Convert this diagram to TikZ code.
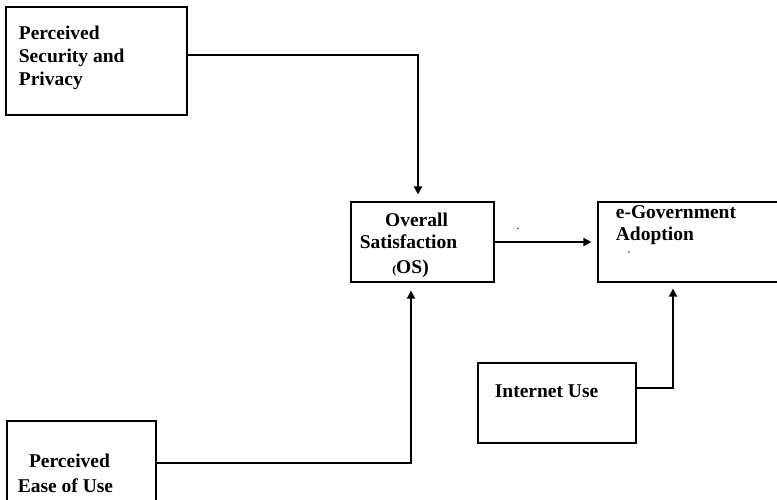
\documentclass[tikz,border=0pt]{standalone}
\usepackage{fontspec}
\setmainfont{Liberation Serif}
\usetikzlibrary{arrows.meta}

\begin{document}
\begin{tikzpicture}[x=1pt,y=-1pt,>={Triangle[length=8pt,width=8pt]},line width=1.7pt]
	  \tikzstyle{box} = [draw,rectangle,inner sep=0pt,line width=1.2pt]
	  \tikzstyle{word} = [font=\fontsize{19.5}{24}\selectfont\bfseries,color=black,inner sep=0pt]
	  \tikzstyle{speck} = [font=\fontsize{9}{10}\selectfont\bfseries,color=black,inner sep=0pt]
	  \useasboundingbox (0,0) rectangle (777,499);
	  % boxes
	  \node (psp) [box,minimum width=181pt,minimum height=108pt] at (96.5,61) {};
	  \node (os) [box,minimum width=143pt,minimum height=80pt] at (422.5,242) {};
	  \node (ega) [box,minimum width=190pt,minimum height=80pt] at (693,242) {};
	  \node (peu) [box,minimum width=149pt,minimum height=90pt] at (81.5,466) {};
	  \node (inet) [box,minimum width=158pt,minimum height=80pt] at (557,403) {};
	  % texts
	  \node (psp_1) [word,anchor=base west] at (18,39.5) {Perceived};
	  \node (psp_2) [word,anchor=base west] at (18,62.5) {Security and};
	  \node (psp_3) [word,anchor=base west] at (18,85) {Privacy};
	  \node (os_1) [word,anchor=base] at (416.5,226) {Overall};
	  \node (os_2) [word,anchor=base] at (408.5,248) {Satisfaction};
	  \node (os_3) [word,anchor=base] at (410.5,273) {{\fontsize{12}{14}\selectfont(}OS)};
	  \node (ega_1) [word,anchor=base west] at (615,218) {e-Government};
	  \node (ega_2) [word,anchor=base west] at (615,240) {Adoption};
	  \node (inet_1) [word,anchor=base west] at (494,397) {Internet Use};
	  \node (peu_1) [word,anchor=base] at (69.5,467) {Perceived};
	  \node (peu_2) [word,anchor=base] at (65.5,492) {Ease of Use};
	  \node (dot_1) [speck] at (518,229) {.};
	  \node (dash_1) [speck] at (629,253) {-};
	  % connectors
	  \coordinate (k_1) at (418,55);
	  \coordinate (k_2) at (411,463);
	  \coordinate (k_3) at (673,388);
	  \draw[->,shorten >=7pt] (psp.east |- k_1) -- (k_1) -- (k_1 |- os.north);
	  \draw[->,shorten >=8pt] (peu.east |- k_2) -- (k_2) -- (k_2 |- os.south);
	  \draw[->,shorten >=6pt] (os.east) -- (ega.west |- os.east);
	  \draw[->,shorten >=6pt] (inet.east |- k_3) -- (k_3) -- (k_3 |- ega.south);
\end{tikzpicture}
\end{document}
